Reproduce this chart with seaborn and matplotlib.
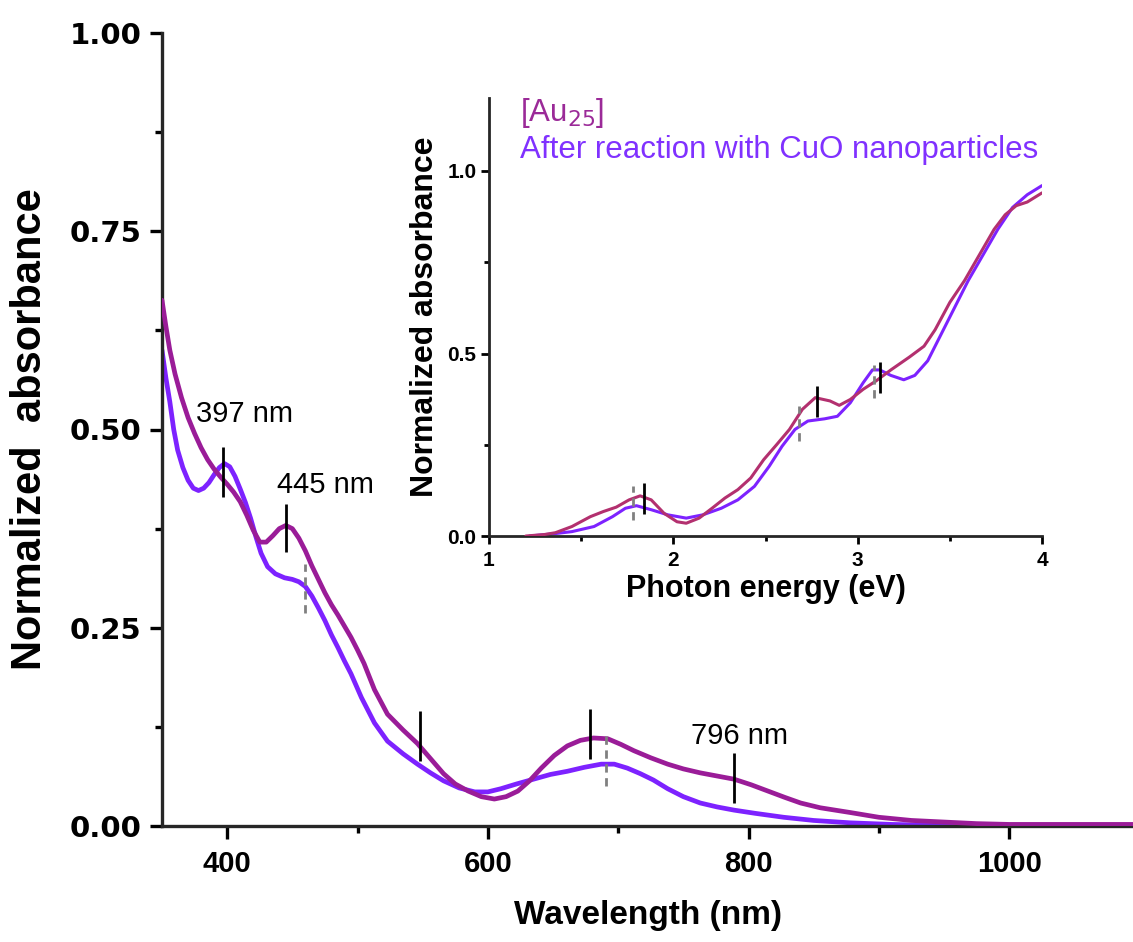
import numpy as np
import pandas as pd
import matplotlib
matplotlib.use("Agg")
import matplotlib.pyplot as plt
from matplotlib import font_manager as fm
from matplotlib.ticker import MultipleLocator
import seaborn as sns

# ---------------- data: main spectrum (wavelength, nm) ----------------
au25_nm = [350, 353, 356, 360, 365, 370, 375, 380, 385, 390, 395, 400, 405, 410, 415, 420,
           425, 430, 435, 440, 445, 450, 455, 460, 465, 470, 475, 480, 485, 490, 495, 500,
           505, 513, 523, 535, 546, 556, 566, 575, 585, 595, 605, 614, 623, 632, 641, 651,
           661, 671, 681, 692, 702, 712, 725, 738, 750, 763, 776, 789, 802, 815, 828, 840,
           855, 878, 900, 925, 950, 975, 1000, 1050, 1095]
au25_abs = [0.663, 0.630, 0.600, 0.570, 0.540, 0.515, 0.495, 0.477, 0.462, 0.450, 0.440, 0.431,
            0.421, 0.409, 0.392, 0.373, 0.358, 0.358, 0.366, 0.375, 0.379, 0.375, 0.363, 0.347,
            0.328, 0.311, 0.294, 0.279, 0.266, 0.252, 0.238, 0.222, 0.205, 0.172, 0.141, 0.121,
            0.104, 0.085, 0.066, 0.053, 0.044, 0.037, 0.034, 0.037, 0.044, 0.057, 0.073, 0.089,
            0.101, 0.108, 0.111, 0.110, 0.103, 0.095, 0.086, 0.078, 0.072, 0.067, 0.063, 0.059,
            0.052, 0.044, 0.036, 0.029, 0.023, 0.017, 0.011, 0.007, 0.005, 0.003, 0.002, 0.002,
            0.002]

cuo_nm = [350, 353, 356, 359, 362, 366, 370, 374, 378, 382, 386, 390, 394, 398, 402, 406,
          410, 414, 418, 422, 426, 431, 437, 444, 450, 455, 460, 465, 470, 475, 480, 485,
          490, 495, 503, 513, 523, 535, 546, 556, 566, 578, 590, 600, 610, 622, 635, 648,
          661, 674, 687, 697, 707, 717, 727, 738, 750, 763, 776, 789, 805, 827, 850, 878,
          910, 940, 1000, 1095]
cuo_abs = [0.600, 0.565, 0.535, 0.500, 0.474, 0.452, 0.436, 0.426, 0.423, 0.426, 0.433, 0.443,
           0.452, 0.457, 0.453, 0.441, 0.425, 0.408, 0.388, 0.365, 0.344, 0.327, 0.318, 0.313,
           0.311, 0.308, 0.302, 0.290, 0.275, 0.259, 0.241, 0.225, 0.208, 0.192, 0.162, 0.130,
           0.107, 0.091, 0.078, 0.067, 0.057, 0.048, 0.043, 0.043, 0.047, 0.053, 0.059, 0.065,
           0.069, 0.074, 0.078, 0.078, 0.073, 0.066, 0.058, 0.047, 0.037, 0.029, 0.024, 0.020,
           0.016, 0.011, 0.007, 0.004, 0.002, 0.001, 0.000, 0.000]

# ---------------- data: inset (photon energy, eV) ----------------
au25_ev = [1.20, 1.30, 1.36, 1.45, 1.55, 1.62, 1.69, 1.76, 1.82, 1.88, 1.95, 2.02, 2.07, 2.14,
           2.21, 2.28, 2.35, 2.42, 2.49, 2.56, 2.63, 2.70, 2.77, 2.85, 2.90, 2.96, 3.03, 3.10,
           3.18, 3.28, 3.36, 3.42, 3.50, 3.58, 3.66, 3.74, 3.80, 3.86, 3.92, 4.00]
au25_ev_abs = [0.000, 0.004, 0.009, 0.026, 0.053, 0.067, 0.079, 0.099, 0.110, 0.099, 0.062,
               0.039, 0.035, 0.049, 0.076, 0.104, 0.127, 0.159, 0.209, 0.250, 0.292, 0.347,
               0.379, 0.370, 0.358, 0.374, 0.402, 0.425, 0.455, 0.490, 0.520, 0.565, 0.640,
               0.700, 0.770, 0.840, 0.880, 0.905, 0.915, 0.940]
cuo_ev = [1.22, 1.35, 1.45, 1.57, 1.67, 1.74, 1.80, 1.88, 1.97, 2.07, 2.16, 2.26, 2.35, 2.44,
          2.52, 2.59, 2.66, 2.73, 2.82, 2.89, 2.96, 3.03, 3.08, 3.12, 3.18, 3.25, 3.31, 3.38,
          3.45, 3.52, 3.60, 3.68, 3.76, 3.84, 3.92, 4.00]
cuo_ev_abs = [0.000, 0.006, 0.012, 0.026, 0.053, 0.076, 0.083, 0.072, 0.058, 0.049, 0.058,
              0.076, 0.099, 0.136, 0.191, 0.246, 0.292, 0.315, 0.321, 0.328, 0.365, 0.420,
              0.455, 0.455, 0.440, 0.428, 0.440, 0.480, 0.550, 0.620, 0.700, 0.770, 0.840,
              0.900, 0.935, 0.960]

# ---------------- annotations ----------------
main_marks_nm = [397, 445, 548, 678, 789]
main_marks_lo = [0.415, 0.345, 0.082, 0.085, 0.029]
main_marks_hi = [0.478, 0.406, 0.145, 0.148, 0.092]
main_dash_nm = [460, 691]
main_dash_lo = [0.269, 0.050]
main_dash_hi = [0.331, 0.114]
peak_labels = ["397 nm", "445 nm", "796 nm"]
peak_label_x = [376, 438, 756]
peak_label_y = [0.52, 0.43, 0.114]

inset_marks_ev = [1.84, 2.78, 3.12]
inset_marks_lo = [0.061, 0.327, 0.392]
inset_marks_hi = [0.145, 0.411, 0.478]
inset_dash_ev = [1.78, 2.68, 3.09]
inset_dash_lo = [0.044, 0.260, 0.378]
inset_dash_hi = [0.138, 0.356, 0.468]

series_names = ["[Au$_{25}$]", "After reaction with CuO nanoparticles"]

C_AU_MAIN = "#9a1c98"
C_AU_INSET = "#b3306f"
C_CUO = "#7d22ff"

# ---------------- style ----------------
sns.set_theme(style="ticks")


def have(fam):
    try:
        fm.findfont(fm.FontProperties(family=fam), fallback_to_default=False)
        return True
    except Exception:
        return False


BASE = "Liberation Sans" if have("Liberation Sans") else "DejaVu Sans"
NARROW = "Liberation Sans Narrow" if have("Liberation Sans Narrow") else BASE
IS_NARROW = NARROW != BASE
plt.rcParams["font.family"] = [BASE, "DejaVu Sans"]
plt.rcParams["axes.linewidth"] = 2.4

W, H = 1133, 942
fig = plt.figure(figsize=(W / 100, H / 100), dpi=100)
fig.patch.set_facecolor("white")

# main axes
ax = fig.add_axes([162 / W, 1 - 826 / H, 1 - 162 / W, (826 - 33) / H])
df_main = pd.concat([
    pd.DataFrame({"nm": au25_nm, "A": au25_abs, "s": "au"}),
    pd.DataFrame({"nm": cuo_nm, "A": cuo_abs, "s": "cuo"}),
])
sns.lineplot(data=df_main[df_main.s == "cuo"], x="nm", y="A", ax=ax, color=C_CUO,
             linewidth=3.4, legend=False, zorder=2)
sns.lineplot(data=df_main[df_main.s == "au"], x="nm", y="A", ax=ax, color=C_AU_MAIN,
             linewidth=3.4, legend=False, zorder=3)
ax.set_xlim(350, 1095)
ax.set_ylim(0, 1.0)
ax.set_facecolor("white")
for s in ["top", "right"]:
    ax.spines[s].set_visible(False)
ax.xaxis.set_major_locator(MultipleLocator(200))
ax.xaxis.set_minor_locator(MultipleLocator(100))
ax.yaxis.set_major_locator(MultipleLocator(0.25))
ax.yaxis.set_minor_locator(MultipleLocator(0.125))
ax.tick_params(which="major", length=9, width=2.4, direction="out", color="black")
ax.tick_params(which="minor", length=5, width=2.4, direction="out", color="black")
ax.set_yticks([0, 0.25, 0.5, 0.75, 1.0])
ax.set_yticklabels(["0.00", "0.25", "0.50", "0.75", "1.00"])
for lab in ax.get_yticklabels():
    lab.set_fontfamily("DejaVu Sans")
    lab.set_fontweight("heavy")
    lab.set_fontsize(21)
    lab.set_color("black")
for lab in ax.get_xticklabels():
    lab.set_fontfamily(NARROW)
    lab.set_fontweight("bold")
    lab.set_fontsize(25 if IS_NARROW else 21)
    lab.set_color("black")
ax.tick_params(axis="x", pad=8)
ax.tick_params(axis="y", pad=6)
ax.set_xlabel("Wavelength (nm)", fontsize=30 if IS_NARROW else 24,
              fontweight="bold", fontfamily=NARROW, labelpad=16, color="black")
ax.set_ylabel("Normalized  absorbance", fontsize=30, fontweight="bold", labelpad=14,
              color="black")
ax.grid(False)

for x, lo, hi in zip(main_marks_nm, main_marks_lo, main_marks_hi):
    ax.vlines(x, lo, hi, color="black", linewidth=2.0, zorder=4)
for x, lo, hi in zip(main_dash_nm, main_dash_lo, main_dash_hi):
    ax.vlines(x, lo, hi, color="#808080", linewidth=2.0, linestyles=(0, (3, 2)), zorder=4)
for t, x, y in zip(peak_labels, peak_label_x, peak_label_y):
    ax.text(x, y, t, fontsize=21, ha="left", va="center", color="black")

# inset axes
ax2 = fig.add_axes([489 / W, 1 - 536 / H, (1042 - 489) / W, (536 - 98) / H])
ax2.set_facecolor("none")
df_in = pd.concat([
    pd.DataFrame({"eV": au25_ev, "A": au25_ev_abs, "s": "au"}),
    pd.DataFrame({"eV": cuo_ev, "A": cuo_ev_abs, "s": "cuo"}),
])
sns.lineplot(data=df_in[df_in.s == "cuo"], x="eV", y="A", ax=ax2, color=C_CUO,
             linewidth=2.2, legend=False, zorder=2)
sns.lineplot(data=df_in[df_in.s == "au"], x="eV", y="A", ax=ax2, color=C_AU_INSET,
             linewidth=2.2, legend=False, zorder=3)
ax2.set_xlim(1, 4)
ax2.set_ylim(0, 1.2)
for s in ["top", "right"]:
    ax2.spines[s].set_visible(False)
for s in ["left", "bottom"]:
    ax2.spines[s].set_linewidth(2.0)
ax2.xaxis.set_major_locator(MultipleLocator(1))
ax2.xaxis.set_minor_locator(MultipleLocator(0.5))
ax2.yaxis.set_major_locator(MultipleLocator(0.5))
ax2.yaxis.set_minor_locator(MultipleLocator(0.25))
ax2.tick_params(which="major", length=6, width=2.0, direction="out", color="black")
ax2.tick_params(which="minor", length=3.5, width=2.0, direction="out", color="black")
ax2.set_yticks([0, 0.5, 1.0])
ax2.set_yticklabels(["0.0", "0.5", "1.0"])
for lab in ax2.get_xticklabels() + ax2.get_yticklabels():
    lab.set_fontfamily(NARROW)
    lab.set_fontweight("bold")
    lab.set_fontsize(18 if IS_NARROW else 15)
    lab.set_color("black")
ax2.tick_params(axis="x", pad=5)
ax2.tick_params(axis="y", pad=3)
ax2.set_xlabel("Photon energy (eV)", fontsize=22, fontweight="bold", labelpad=3,
               color="black")
ax2.set_ylabel("Normalized absorbance", fontsize=23, fontweight="bold", labelpad=5,
               color="black")
ax2.grid(False)

for x, lo, hi in zip(inset_dash_ev, inset_dash_lo, inset_dash_hi):
    ax2.vlines(x, lo, hi, color="#808080", linewidth=2.0, linestyles=(0, (3, 2)), zorder=4)
for x, lo, hi in zip(inset_marks_ev, inset_marks_lo, inset_marks_hi):
    ax2.vlines(x, lo, hi, color="black", linewidth=2.0, zorder=5)

ax2.text(0.056, 0.966, series_names[0], transform=ax2.transAxes, fontsize=22.5,
         color="#9b2a98", ha="left", va="center")
ax2.text(0.056, 0.881, series_names[1], transform=ax2.transAxes, fontsize=22.5,
         color="#8031ff", ha="left", va="center")

fig.savefig("out.png", dpi=100, facecolor="white")
